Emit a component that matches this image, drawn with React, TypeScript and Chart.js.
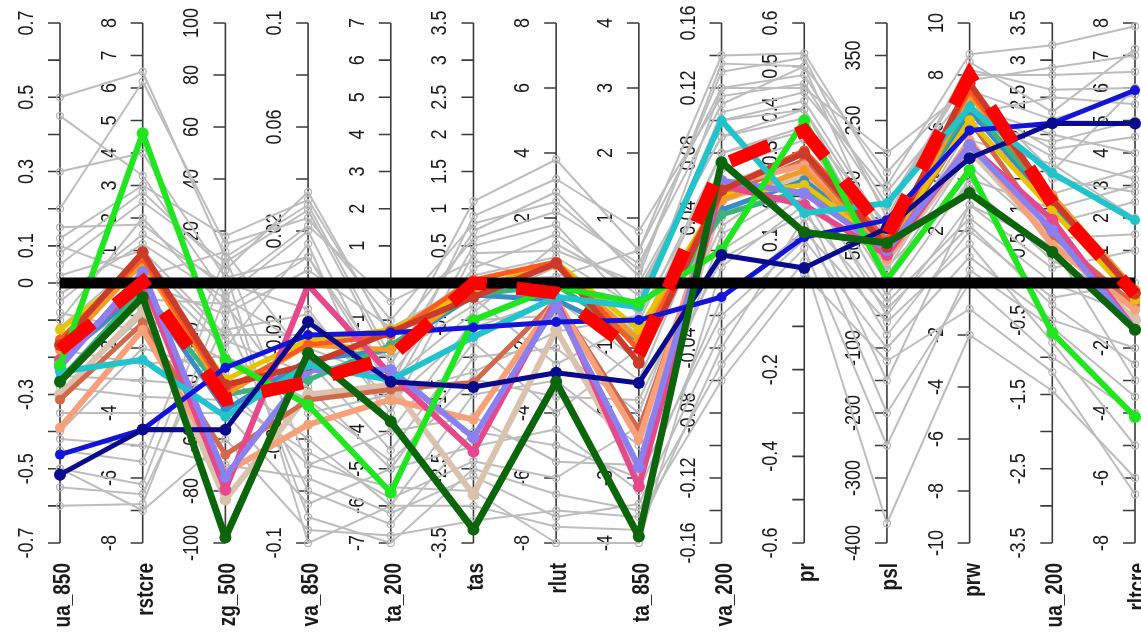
import React, { useEffect, useRef } from 'react';
import { Chart, registerables } from 'chart.js';

Chart.register(...registerables);

// ---------- axes ----------
const axisNames = ['ua_850', 'rstcre', 'zg_500', 'va_850', 'ta_200', 'tas', 'rlut', 'ta_850', 'va_200', 'pr', 'psl', 'prw', 'ua_200', 'rltcre'];
const axisLimits = [0.7, 8, 100, 0.1, 7, 3.5, 8, 4, 0.16, 0.6, 400, 10, 3.5, 8];
const tickSteps = [0.1, 1, 20, 0.02, 1, 0.5, 2, 1, 0.02, 0.1, 50, 2, 0.5, 1];
const tickLabels: string[][] = [
  ['0.7', '0.5', '0.3', '0.1', '0', '-0.3', '-0.5', '-0.7'],
  ['8', '7', '6', '5', '4', '3', '2', '1', '0', '-2', '-4', '-6', '-8'],
  ['100', '80', '60', '40', '20', '0', '-20', '-40', '-60', '-80', '-100'],
  ['0.1', '0.06', '0.02', '0', '-0.02', '-0.06', '-0.1'],
  ['7', '6', '5', '4', '3', '2', '1', '0', '-1', '-2', '-3', '-4', '-5', '-6', '-7'],
  ['3.5', '3', '2.5', '2', '1.5', '1', '0.5', '0', '-0.5', '-1.5', '-2.5', '-3.5'],
  ['8', '6', '4', '2', '0', '-2', '-4', '-6', '-8'],
  ['4', '3', '2', '1', '0', '-1', '-2', '-3', '-4'],
  ['0.16', '0.12', '0.08', '0.04', '0', '-0.04', '-0.08', '-0.12', '-0.16'],
  ['0.6', '0.5', '0.4', '0.3', '0.2', '0.1', '0', '-0.2', '-0.4', '-0.6'],
  ['350', '250', '150', '50', '0', '-100', '-200', '-300', '-400'],
  ['10', '8', '6', '4', '2', '0', '-2', '-4', '-6', '-8', '-10'],
  ['3.5', '3', '2.5', '2', '1.5', '1', '0.5', '0', '-0.5', '-1.5', '-2.5', '-3.5'],
  ['8', '7', '6', '5', '4', '3', '2', '1', '0', '-2', '-4', '-6', '-8'],
];

// ---------- highlighted series (axis units) ----------
const multiModelMean = [-0.18, 0.03, -44.9, -0.038, -1.99, 0, -0.31, -1.11, 0.0725, 0.352, 73.7, 7.99, 1.07, -0.34];
const zeroReference = [0, 0, 0, 0, 0, 0, 0, 0, 0, 0, 0, 0, 0, 0];

const seriesDarkGreen = [-0.266, -0.43, -97.9, -0.0269, -3.73, -3.32, -3.04, -3.9, 0.0743, 0.117, 61.4, 3.46, 0.417, -1.44];
const seriesNavy = [-0.516, -4.51, -56.4, -0.015, -2.66, -1.4, -2.76, -1.54, 0.0172, 0.0345, 84.5, 4.8, 2.15, 4.91];
const seriesBlue = [-0.462, -4.51, -32.6, -0.02, -1.34, -0.6, -1.2, -0.57, -0.0086, 0.106, 96.7, 5.87, 2.15, 5.93];
const seriesLime = [-0.22, 4.61, -29.6, -0.0469, -5.64, -0.5, -0.12, -0.31, 0.0203, 0.375, 5, 4.34, -0.67, -4.12];
const seriesCyan = [-0.239, -2.36, -51.4, -0.0315, -2.61, -0.726, -0.43, -0.37, 0.1, 0.161, 122.8, 6.76, 1.48, 1.93];
const seriesFirebrick = [-0.167, 0.95, -39.2, -0.0315, -1.32, -0.19, 0.61, -1.23, 0.057, 0.3, 55.3, 7.68, 1.12, -0.31];
const seriesLavender = [-0.226, 0.34, -74.5, -0.0334, -2.34, -2.08, -0.68, -2.83, 0.063, 0.207, 50.7, 5.3, 0.71, -1.44];
const seriesPink = [-0.207, 0.09, -79.5, -0.0008, -2.47, -2.27, -0.52, -3.13, 0.06, 0.18, 43, 5.3, 0.85, -1.44];
const seriesOrangeRed = [-0.153, 0.77, -41, -0.0238, -1.4, 0.04, 0.645, -1.03, 0.057, 0.306, 66, 7.41, 1.12, -0.37];
const seriesOrange = [-0.18, 0.645, -43, -0.0238, -1.8, -0.094, 0.553, -0.875, 0.051, 0.26, 50.7, 7.22, 1.18, -0.21];
const seriesGold = [-0.126, 0.55, -37.2, -0.0219, -1.26, -0.094, 0.645, -0.72, 0.054, 0.226, 58.3, 6.26, 0.98, -0.52];
const seriesSalmon = [-0.39, -1.44, -72.9, -0.0545, -3.14, -1.84, -0.52, -2.41, 0.06, 0.272, 35.3, 5.49, 0.51, -0.83];
const seriesSienna = [-0.314, -1.23, -66, -0.045, -2.87, -1.34, -0.52, -2.26, 0.054, 0.283, 50.7, 6.26, 0.645, -0.68];
const seriesSeaGreen = [-0.26, -0.21, -43, -0.0373, -1.67, -0.16, -0.06, -0.875, 0.042, 0.214, 66, 6.83, 1.12, -0.52];
const seriesSteelBlue = [-0.207, -0.21, -48.8, -0.0296, -1.8, -0.16, -0.52, -0.875, 0.045, 0.237, 58.3, 6.64, 1.05, -0.52];
const seriesTan = [-0.3, -0.83, -83.3, -0.043, -2.74, -2.85, -1.44, -2.95, 0.051, 0.249, 35.3, 5.11, 0.58, -1.14];

const highlighted: { values: number[]; color: string; width: number; radius: number }[] = [
  { values: seriesDarkGreen, color: '#0b650b', width: 7, radius: 6 },
  { values: seriesNavy, color: '#0a0a8c', width: 5, radius: 6 },
  { values: seriesBlue, color: '#1414d8', width: 5, radius: 5 },
  { values: seriesLime, color: '#1fe61f', width: 6, radius: 6 },
  { values: seriesCyan, color: '#22c4cc', width: 6, radius: 5 },
  { values: seriesFirebrick, color: '#cc3a2a', width: 6, radius: 6 },
  { values: seriesLavender, color: '#8a80f0', width: 6, radius: 6 },
  { values: seriesPink, color: '#e6488c', width: 6, radius: 6 },
  { values: seriesOrangeRed, color: '#ff5a1e', width: 5, radius: 5 },
  { values: seriesOrange, color: '#f59a2a', width: 5, radius: 5 },
  { values: seriesGold, color: '#e8c400', width: 5, radius: 5 },
  { values: seriesSalmon, color: '#f8a07a', width: 6, radius: 5 },
  { values: seriesSienna, color: '#d2694a', width: 5, radius: 5 },
  { values: seriesSeaGreen, color: '#3cb37a', width: 5, radius: 5 },
  { values: seriesSteelBlue, color: '#3a8bc8', width: 5, radius: 5 },
  { values: seriesTan, color: '#d9c2ae', width: 6, radius: 6 },
];

// ---------- remaining ensemble members (grey, axis units) ----------
const otherModels: number[][] = [
  [0.5, 6.5, 10, 0.03, -2, 1.1, 3.8, 0.5, 0.14, 0.53, 150, 8.8, 3.2, 7.9],
  [0.2, 6.2, 15, 0.025, -1, 0.8, 2.5, 0.2, 0.13, 0.52, 100, 8.5, 2.3, 7.2],
  [0.45, 3.3, -5, 0.02, -3, 0.5, 1.8, -0.5, 0.12, 0.45, 200, 7.5, 1.5, 6],
  [0.08, 2.8, 5, 0.035, -1.5, 0.6, 2.2, 0.3, 0.11, 0.5, 50, 6.5, 2.5, 5.5],
  [-0.1, 2, -10, 0.01, -2.5, 0.2, 1.5, -0.2, 0.1, 0.42, 80, 7, 1.8, 4.5],
  [-0.05, 1.5, 0, -0.01, -3.5, 0.4, 1, 0, 0.09, 0.38, 30, 6, 1.2, 3.5],
  [0.02, 1, -20, -0.02, -2, -0.3, 0.5, -0.8, 0.08, 0.35, 10, 5, 0.8, 2.5],
  [-0.15, 0.5, -25, 0.015, -4, -0.5, -1, -1.5, 0.06, 0.3, -20, 4, 1, 3],
  [-0.3, -1, -30, -0.04, -5, -1, -2, -2, 0.05, 0.25, -50, 3, 0.2, 1],
  [-0.4, -2, -35, -0.06, -6, -1.5, -3, -2.5, 0.02, 0.2, -80, 2, -0.2, 0],
  [-0.55, -6.5, -15, -0.08, -6.5, -2, -5, -3, -0.02, 0.1, -100, 1, -0.5, -2],
  [-0.6, -6.8, -5, -0.09, -7, -2.5, -6.5, -3.5, -0.05, 0.05, -370, -2, -1.45, -6],
  [-0.5, -6.2, 5, -0.1, -6, -3, -7.5, -3.8, -0.04, 0.15, -200, 0, -1, -4],
  [-0.45, -5.5, 10, -0.07, -5.5, -2.8, -8, -4, 0.01, 0.18, -150, 3, 0.5, -3],
  [0.1, 0.2, 12, -0.03, -4.5, -0.8, -4, -1, 0.04, 0.28, 20, 5.5, 1.6, 2],
  [-0.2, -0.5, -8, -0.05, -3, -1.2, -1.5, -0.5, 0.07, 0.33, 60, 6.8, 2, 4],
  [0, 0, -12, 0.005, -1.2, 0, 0.2, 0.5, 0.12, 0.48, 120, 8, 2.8, 6.5],
  [-0.25, -3, -40, -0.07, -4, -1.8, -5.5, -2.8, 0.03, 0.22, -30, 2.5, 0, -1],
  [0.15, 1.8, -2, 0.022, -0.5, 0.3, 0, -0.3, 0.1, 0.4, 40, 7.2, 1.4, 2.8],
  [-0.35, -4, -50, -0.085, -5, -2.2, -4.5, -3.2, -0.01, 0.12, -60, 1.5, -0.8, -5],
  [0.05, 2.5, 8, 0.028, -2.2, 0.7, 2.8, 0.1, 0.135, 0.5, 170, 7.8, 2.9, 7],
  [-0.08, -1.5, -18, -0.012, -3.2, -0.6, -0.5, -1.2, 0.06, 0.3, 0, 4.5, 0.6, 1.5],
  [-0.12, 0.8, -22, -0.035, -1.8, -0.2, -2.5, -0.6, 0.08, 0.36, 90, 6.2, 1.9, 5],
  [-0.5, -7, -60, -0.095, -6.8, -3.2, -7, -3.6, -0.06, 0.02, -120, -1, -1.2, -6.5],
  [0.3, 4, 2, 0.01, -2.8, 0.9, 3.2, 0.8, 0.115, 0.46, 110, 8.2, 2.6, 6],
  [-0.18, -2.5, -28, -0.045, -4.8, -1.3, -3.5, -1.8, 0.035, 0.26, 25, 3.8, 0.3, -0.5],
  [-0.03, 1.2, -6, -0.025, -2.6, -0.4, 1.2, -0.1, 0.09, 0.4, 70, 6.6, 1.7, 3.2],
  [-0.28, -3.5, -45, -0.065, -5.8, -2.4, -6, -2.2, 0.015, 0.16, -40, 2.2, -0.3, -2.5],
  [0.12, 3, 18, 0.032, -1.4, 0.1, 0.8, -0.4, 0.105, 0.44, 140, 7.4, 2.2, 5.8],
  [-0.42, -5, -70, -0.075, -6.2, -2.6, -7.2, -3.4, -0.03, 0.08, -250, 0.5, -0.6, -3.5],
];

const normalise = (vals: number[]) => vals.map((v, i) => v / axisLimits[i]);

const FONT = '"Liberation Sans", Arial, Helvetica, sans-serif';
const STRETCH = 1.22;

function drawRotated(ctx: CanvasRenderingContext2D, text: string, x: number, y: number, align: CanvasTextAlign, font: string) {
  ctx.save();
  ctx.translate(x, y);
  ctx.rotate(-Math.PI / 2);
  ctx.scale(1, STRETCH);
  ctx.font = font;
  ctx.textAlign = align;
  ctx.textBaseline = 'alphabetic';
  ctx.fillText(text, 0, 0);
  ctx.restore();
}

const axesPlugin = {
  id: 'parallelAxes',
  beforeDatasetsDraw(chart: any) {
    const ctx: CanvasRenderingContext2D = chart.ctx;
    const xs = chart.scales.x;
    const ys = chart.scales.y;
    ctx.save();
    axisNames.forEach((name, i) => {
      const x = xs.getPixelForValue(i);
      const R = axisLimits[i];
      const top = ys.getPixelForValue(1);
      const bot = ys.getPixelForValue(-1);
      ctx.strokeStyle = '#3a3a3a';
      ctx.lineWidth = 1.6;
      ctx.beginPath();
      ctx.moveTo(x, top);
      ctx.lineTo(x, bot);
      const n = Math.round((2 * R) / tickSteps[i]);
      for (let k = 0; k <= n; k++) {
        const v = -R + k * tickSteps[i];
        const y = ys.getPixelForValue(v / R);
        ctx.moveTo(x - 12, y);
        ctx.lineTo(x, y);
      }
      ctx.stroke();
      ctx.fillStyle = '#1a1a1a';
      tickLabels[i].forEach((lbl) => {
        const y = ys.getPixelForValue(parseFloat(lbl) / R);
        drawRotated(ctx, lbl, x - 27, y, 'center', `18px ${FONT}`);
      });
      drawRotated(ctx, name, x + 10, bot + 20, 'right', `bold 19px ${FONT}`);
    });
    ctx.restore();
  },
};

export default function App() {
  const canvasRef = useRef<HTMLCanvasElement | null>(null);

  useEffect(() => {
    if (!canvasRef.current) return;
    const datasets: any[] = [];

    datasets.push({
      data: normalise(multiModelMean),
      borderColor: '#ff0000',
      borderWidth: 13,
      borderDash: [42, 30],
      borderCapStyle: 'butt',
      borderJoinStyle: 'miter',
      pointRadius: 0,
      clip: false,
      order: 0,
    });
    datasets.push({
      data: zeroReference,
      borderColor: '#000000',
      borderWidth: 11,
      borderCapStyle: 'butt',
      pointRadius: 0,
      clip: false,
      order: 1,
    });
    highlighted.forEach((s, idx) => {
      datasets.push({
        data: normalise(s.values),
        borderColor: s.color,
        backgroundColor: s.color,
        borderWidth: s.width,
        borderJoinStyle: 'round',
        borderCapStyle: 'round',
        pointRadius: s.radius,
        pointBackgroundColor: s.color,
        pointBorderWidth: 0,
        clip: false,
        order: 2 + idx,
      });
    });
    otherModels.forEach((vals, idx) => {
      datasets.push({
        data: normalise(vals),
        borderColor: '#bdbdbd',
        borderWidth: 2,
        borderJoinStyle: 'round',
        pointRadius: 3.5,
        pointBorderWidth: 1.3,
        pointBorderColor: '#b5b5b5',
        pointBackgroundColor: 'rgba(255,255,255,0)',
        clip: false,
        order: 100 + idx,
      });
    });

    const chart = new Chart(canvasRef.current, {
      type: 'line',
      data: { labels: axisNames, datasets },
      options: {
        responsive: false,
        animation: false,
        events: [],
        layout: { padding: { left: 60, right: 0, top: 23, bottom: 94 } },
        scales: {
          x: { type: 'category', display: false, offset: false },
          y: { type: 'linear', min: -1, max: 1, display: false },
        },
        plugins: { legend: { display: false }, tooltip: { enabled: false } },
        elements: { line: { tension: 0 } },
      },
      plugins: [axesPlugin],
    } as any);
    return () => chart.destroy();
  }, []);

  return (
    <div style={{ position: 'fixed', left: 0, top: 0, width: 1141, height: 637, background: '#ffffff', overflow: 'hidden' }}>
      <canvas ref={canvasRef} width={1141} height={637} style={{ display: 'block' }} />
    </div>
  );
}
